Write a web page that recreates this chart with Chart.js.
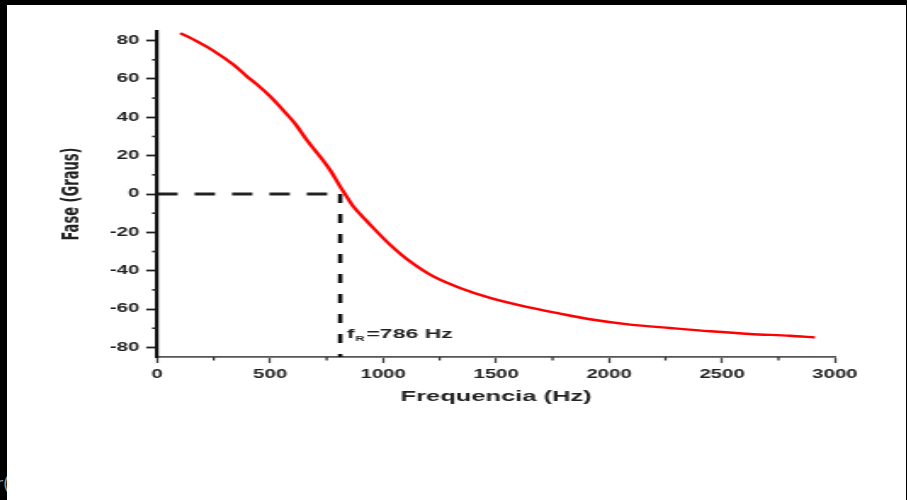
<!DOCTYPE html>
<html><head><meta charset="utf-8">
<script src="https://cdn.jsdelivr.net/npm/chart.js@4.4.1/dist/chart.umd.min.js"></script>
<style>
html,body{margin:0;padding:0;background:#000;width:907px;height:500px;overflow:hidden;}
#panel{position:absolute;left:7px;top:5px;width:899px;height:495px;background:#fff;}
#c{position:absolute;left:0;top:0;}
#frag{position:absolute;left:-4px;top:474px;font:17px 'DejaVu Sans',sans-serif;color:#9a9a9a;}
</style></head><body>
<div id="frag">r(</div>
<div id="panel"><canvas id="c" width="529" height="495" style="width:899px;height:495px"></canvas></div>
<script>
// ---- data ----
const frequencies = [102,176,250,338,397,441,500,558,610,661,720,765,809,830,868,941,1030,1118,1222,1340,1473,1635,1783,1915,2093,2270,2447,2624,2801,2911];
const phases = [83.9,79.6,74.6,67.4,61.3,57.2,50.9,43.6,36.7,28.3,19.6,12.5,4.0,0.2,-6.5,-15.8,-26.4,-35.1,-43.0,-49.0,-54.2,-58.9,-62.4,-65.3,-68.1,-69.9,-71.6,-73.0,-73.9,-74.8];
const markerFreq = 810;          // where the dashed resonance marker is drawn
const markerPhase = 0;
const markerText = ['f', 'R', '=786 Hz'];
const xMajorTicks = [0,500,1000,1500,2000,2500,3000];
const xTickLabels = ['0','500','1000','1500','2000','2500','3000'];
const xMinorTicks = [250,750,1250,1750,2250,2750];
const yMajorTicks = [-80,-60,-40,-20,0,20,40,60,80];
const yTickLabels = ['-80','-60','-40','-20','0','20','40','60','80'];
const yMinorTicks = [-70,-50,-30,-10,10,30,50,70];
const xTitle = 'Frequencia (Hz)';
const yTitle = 'Fase (Graus)';
const xRange = [0, 3000];
const yRange = [-85, 85];

// ---- fonts ----
function hasFont(fam, weight){
  const c = document.createElement('canvas').getContext('2d');
  const t = 'Fase (Graus) abcWMi 0123';
  c.font = `${weight} 40px monospace`; const a = c.measureText(t).width;
  c.font = `${weight} 40px "${fam}", monospace`; const b = c.measureText(t).width;
  c.font = `${weight} 40px serif`; const a2 = c.measureText(t).width;
  c.font = `${weight} 40px "${fam}", serif`; const b2 = c.measureText(t).width;
  return a !== b || a2 !== b2;
}
const yTitleFam = ['Liberation Sans Narrow','DejaVu Sans Condensed','Liberation Sans'].find(f => hasFont(f,'bold')) || 'Liberation Sans';
const mctx = document.createElement('canvas').getContext('2d');
mctx.font = `bold 100px "${yTitleFam}"`;
const yTitleSize = 100 * 93 / mctx.measureText(yTitle).width;
const yTitleLH = yTitleSize * 1.2;

const SANS = "'Liberation Sans', Arial, sans-serif";

const minorTicksAndLabel = {
  id: 'minorTicksAndLabel',
  afterDraw(chart){
    const {ctx} = chart; const xs = chart.scales.x, ys = chart.scales.y;
    ctx.save();
    ctx.strokeStyle = '#222'; ctx.lineWidth = 1.6;
    yMinorTicks.forEach(v => { const py = ys.getPixelForValue(v); ctx.beginPath(); ctx.moveTo(ys.right, py); ctx.lineTo(ys.right - 3, py); ctx.stroke(); });
    ctx.strokeStyle = '#333'; ctx.lineWidth = 1.3;
    xMinorTicks.forEach(v => { const px = xs.getPixelForValue(v); ctx.beginPath(); ctx.moveTo(px, xs.top); ctx.lineTo(px, xs.top + 3.5); ctx.stroke(); });
    // annotation
    const px = xs.getPixelForValue(markerFreq) + 4;
    const py = ys.getPixelForValue(-75);
    ctx.fillStyle = '#222'; ctx.textBaseline = 'alphabetic'; ctx.textAlign = 'left';
    ctx.font = `bold 13.5px ${SANS}`;
    ctx.fillText(markerText[0], px, py);
    let x2 = px + ctx.measureText(markerText[0]).width + 0.5;
    ctx.font = `bold 7.5px ${SANS}`;
    ctx.fillText(markerText[1], x2, py + 3.5);
    x2 += ctx.measureText(markerText[1]).width + 1;
    ctx.font = `bold 13.5px ${SANS}`;
    ctx.fillText(markerText[2], x2, py);
    ctx.restore();
  }
};

new Chart(document.getElementById('c'), {
  type: 'line',
  data: {
    datasets: [
      { data: frequencies.map((f,i)=>({x:f, y:phases[i]})), borderColor:'#ff0000', borderWidth:2.4, pointRadius:0, tension:0.3, order:0 },
      { data: [{x:xRange[0], y:markerPhase},{x:markerFreq, y:markerPhase}], borderColor:'#222', borderWidth:3, borderDash:[12,10], pointRadius:0, order:1 },
      { data: [{x:markerFreq, y:markerPhase},{x:markerFreq, y:yRange[0]}], borderColor:'#111', borderWidth:2.6, borderDash:[9,11], pointRadius:0, order:1 }
    ]
  },
  options: {
    responsive:false, animation:false, devicePixelRatio:1,
    layout:{ padding:{ left:0, top:26, right:41.8, bottom:0 } },
    plugins:{ legend:{display:false}, tooltip:{enabled:false} },
    scales:{
      x:{ type:'linear', min:xRange[0], max:xRange[1],
        afterFit(s){ s.height = 495 - 352; },
        afterBuildTicks(s){ s.ticks = xMajorTicks.map(v=>({value:v})); },
        grid:{ display:true, drawOnChartArea:false, drawTicks:true, tickLength:6, tickColor:'#444', tickWidth:1.3 },
        border:{ display:true, color:'#555', width:1.8 },
        ticks:{ padding:4, color:'#222', font:{family:SANS, weight:'bold', size:12}, maxRotation:0, autoSkip:false,
          callback:(v, i) => xTickLabels[i] },
        title:{ display:true, text:xTitle, color:'#222', font:{family:SANS, weight:'bold', size:15}, padding:{top:0, bottom:94} }
      },
      y:{ type:'linear', min:yRange[0], max:yRange[1],
        afterFit(s){ s.width = 88.4; },
        afterBuildTicks(s){ s.ticks = yMajorTicks.map(v=>({value:v})); },
        grid:{ display:true, drawOnChartArea:false, drawTicks:true, tickLength:6.5, tickColor:'#222', tickWidth:1.8 },
        border:{ display:true, color:'#111', width:2.2 },
        ticks:{ padding:4, color:'#222', font:{family:SANS, weight:'bold', size:12}, autoSkip:false,
          callback:(v, i) => yTickLabels[i] },
        title:{ display:true, text:yTitle, color:'#222', font:{family:yTitleFam, weight:'bold', size:yTitleSize}, padding:{top:38.4 - yTitleLH/2, bottom:0} }
      }
    }
  },
  plugins:[minorTicksAndLabel]
});
</script>
</body></html>
